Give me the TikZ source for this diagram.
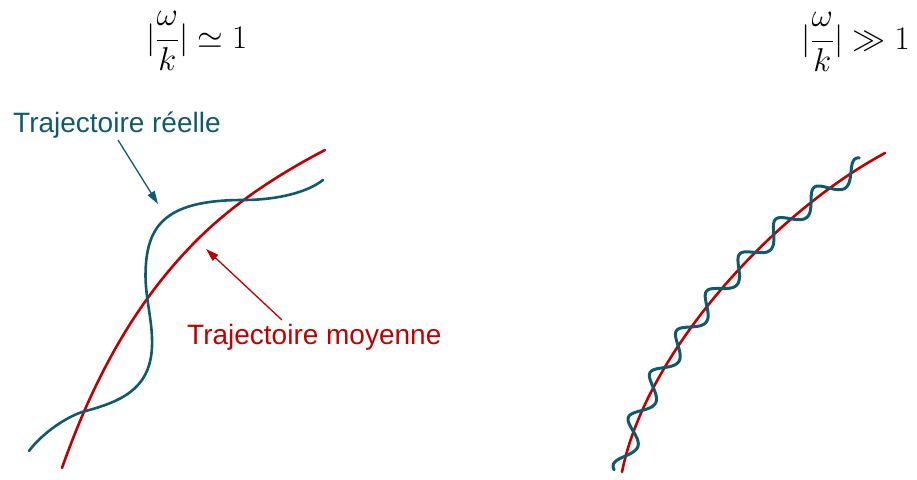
\RequirePackage{fix-cm}
\documentclass[tikz,border=0pt]{standalone}
\usepackage{fontspec}
\setmainfont{Liberation Sans}
\usetikzlibrary{arrows.meta}
\definecolor{teal}{RGB}{15,90,108}
\definecolor{dred}{RGB}{192,0,0}
\begin{document}
\begin{tikzpicture}[x=1pt,y=-1pt,
  curve/.style={line width=2.6pt,line cap=round},
  pointer/.style={line width=1.3pt,-{Triangle[length=13pt,width=8pt]}},
  lab/.style={inner sep=0pt,anchor=base west,font=\fontsize{28}{32}\selectfont},
  mlab/.style={inner sep=0pt,anchor=base west,font=\fontsize{33}{40}\selectfont},
  declare function={
    bx(\t)=(1-\t)^3*622+3*(1-\t)^2*\t*645+3*(1-\t)*\t^2*770+\t^3*885;
    by(\t)=(1-\t)^3*472+3*(1-\t)^2*\t*355+3*(1-\t)*\t^2*215+\t^3*153;
    ddx(\t)=(1-\t)^2*2.3+2*(1-\t)*\t*12.5+\t^2*11.5;
    ddy(\t)=(1-\t)^2*(-11.7)+2*(1-\t)*\t*(-14.0)+\t^2*(-6.2);
    sl(\t)=358*\t+167*\t^2-100*\t^3;
    ph(\t)=53+7.35*sl(\t);
    wv(\t)=0.5+9.5*sin(ph(\t));
    wu(\t)=1*cos(ph(\t));
  }]
\useasboundingbox (0,0) rectangle (917,479);

% labels
\node[mlab] (m1) at (146,48) {$\displaystyle |\frac{\omega}{k}|\simeq 1$};
\node[mlab] (m2) at (801,49) {$\displaystyle |\frac{\omega}{k}|\gg 1$};
\node[lab,text=teal] (lr) at (13,132) {Trajectoire réelle};
\node[lab,text=dred] (lm) at (187,344) {Trajectoire moyenne};

% left: mean trajectory
\coordinate (l0) at (62,468);
\coordinate (l1) at (197,240);
\coordinate (l2) at (325,150);
\draw[curve,dred] (l0) .. controls (92,383) and (133,304) .. (l1)
                       .. controls (234,203) and (279,174) .. (l2);
% left: real trajectory
\coordinate (b0) at (29,451);
\coordinate (b1) at (82,412);
\coordinate (b2) at (152,347);
\coordinate (b3) at (145.5,275);
\coordinate (b4) at (243,200);
\coordinate (b5) at (323,180);
\draw[curve,teal] (b0) .. controls (40,436) and (62,419) .. (b1)
                       .. controls (120,402) and (150,390) .. (b2)
                       .. controls (153,322) and (145.5,300) .. (b3)
                       .. controls (146,228) and (162,200) .. (b4)
                       .. controls (278,200) and (308,192) .. (b5);

% pointers
\coordinate (a1s) at (118,140);
\coordinate (a1e) at (158,204);
\coordinate (a2s) at (282,320);
\coordinate (a2e) at (206,249);
\draw[pointer,teal] (a1s) -- (a1e);
\draw[pointer,dred] (a2s) -- (a2e);

% right: mean trajectory
\coordinate (r0) at (622,472);
\coordinate (r1) at (645,355);
\coordinate (r2) at (770,215);
\coordinate (r3) at (885,153);
\draw[curve,dred] (r0) .. controls (r1) and (r2) .. (r3);
% right: real trajectory (fast oscillation)
\draw[curve,teal,line width=3pt] plot[variable=\t,domain=0:0.94,samples=400,smooth]
  ({bx(\t)+(wu(\t)*ddx(\t)+wv(\t)*ddy(\t))/veclen(ddx(\t),ddy(\t))},
   {by(\t)+(wu(\t)*ddy(\t)-wv(\t)*ddx(\t))/veclen(ddx(\t),ddy(\t))});
\end{tikzpicture}
\end{document}
